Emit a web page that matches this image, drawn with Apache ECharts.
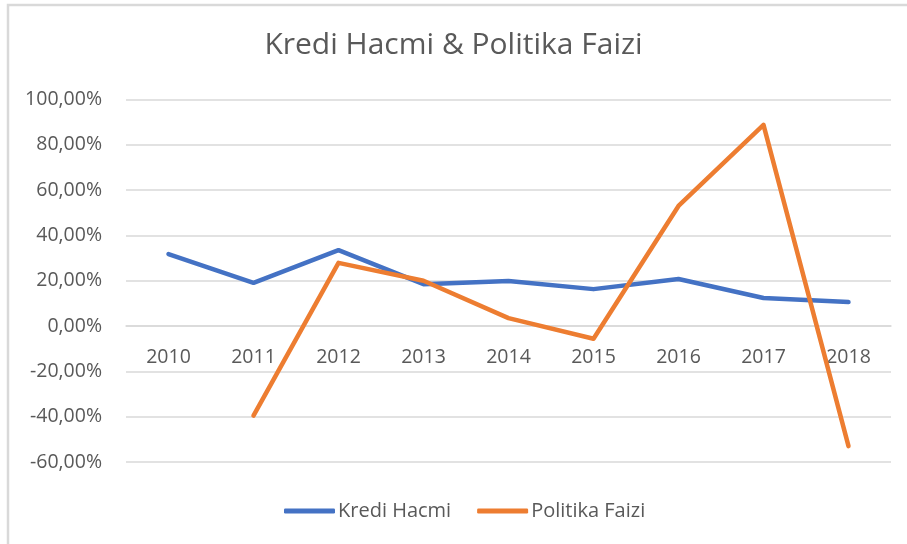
<!DOCTYPE html>
<html>
<head>
<meta charset="utf-8">
<script src="https://cdn.jsdelivr.net/npm/echarts@6/dist/echarts.min.js"></script>
<style>
  html, body { margin: 0; padding: 0; background: #fff; }
  #chart { width: 907px; height: 544px; }
</style>
</head>
<body>
<div id="chart"></div>
<script>
// Years on the category axis
const years = ['2010', '2011', '2012', '2013', '2014', '2015', '2016', '2017', '2018'];
// Annual change, percent
const krediHacmi = [31.8, 19.1, 33.5, 18.5, 19.9, 16.3, 20.8, 12.4, 10.6];
const politikaFaizi = [null, -39.5, 27.9, 20.0, 3.5, -5.6, 53.0, 88.8, -53.0];
// Value axis range
const yMin = -60, yMax = 100, yStep = 20;

const fontFamily = '"Open Sans", Lato, sans-serif';
const textColor = '#595959';
const gridColor = '#d9d9d9';

// Plot area
const chartH = 544;
const gridTop = 99.5, gridBottom = 82;
const plotH = chartH - gridTop - gridBottom;
// Lift the category axis up to the zero line
const zeroOffset = -((0 - yMin) / (yMax - yMin)) * plotH;

const chart = echarts.init(document.getElementById('chart'));
chart.setOption({
  animation: false,
  backgroundColor: '#fff',
  graphic: [{
    type: 'rect',
    shape: { x: 8, y: 5, width: 1200, height: 1000 },
    style: { fill: 'none', stroke: gridColor, lineWidth: 2.5 },
    silent: true
  }],
  title: {
    text: 'Kredi Hacmi & Politika Faizi',
    left: 'center',
    top: 25,
    textStyle: { fontFamily, fontSize: 30, fontWeight: 'normal', color: textColor }
  },
  legend: {
    top: 496,
    left: 279,
    itemWidth: 51,
    itemHeight: 5,
    itemGap: 26,
    icon: 'roundRect',
    textStyle: { fontFamily, fontSize: 20, color: textColor, padding: [0, 0, 0, -2] },
    data: ['Kredi Hacmi', 'Politika Faizi']
  },
  grid: { left: 126, right: 16, top: gridTop, bottom: gridBottom, containLabel: false },
  xAxis: {
    type: 'category',
    data: years,
    boundaryGap: true,
    offset: zeroOffset,
    axisLine: { show: true, onZero: false, lineStyle: { color: gridColor, width: 1.5 } },
    axisTick: { show: false },
    axisLabel: { margin: 21, fontFamily, fontSize: 19.5, color: textColor }
  },
  yAxis: {
    type: 'value',
    min: yMin,
    max: yMax,
    interval: yStep,
    axisLine: { show: false },
    axisTick: { show: false },
    splitLine: { lineStyle: { color: gridColor, width: 1.5 } },
    axisLabel: {
      margin: 24,
      fontFamily, fontSize: 19.5, color: textColor,
      formatter: v => v.toFixed(2).replace('.', ',') + '%'
    }
  },
  series: [
    {
      name: 'Kredi Hacmi',
      type: 'line',
      data: krediHacmi,
      symbol: 'none',
      color: '#4472C4',
      lineStyle: { width: 4.5, cap: 'round', join: 'round' }
    },
    {
      name: 'Politika Faizi',
      type: 'line',
      data: politikaFaizi,
      symbol: 'none',
      color: '#ED7D31',
      lineStyle: { width: 4.5, cap: 'round', join: 'round' }
    }
  ]
});
</script>
</body>
</html>
